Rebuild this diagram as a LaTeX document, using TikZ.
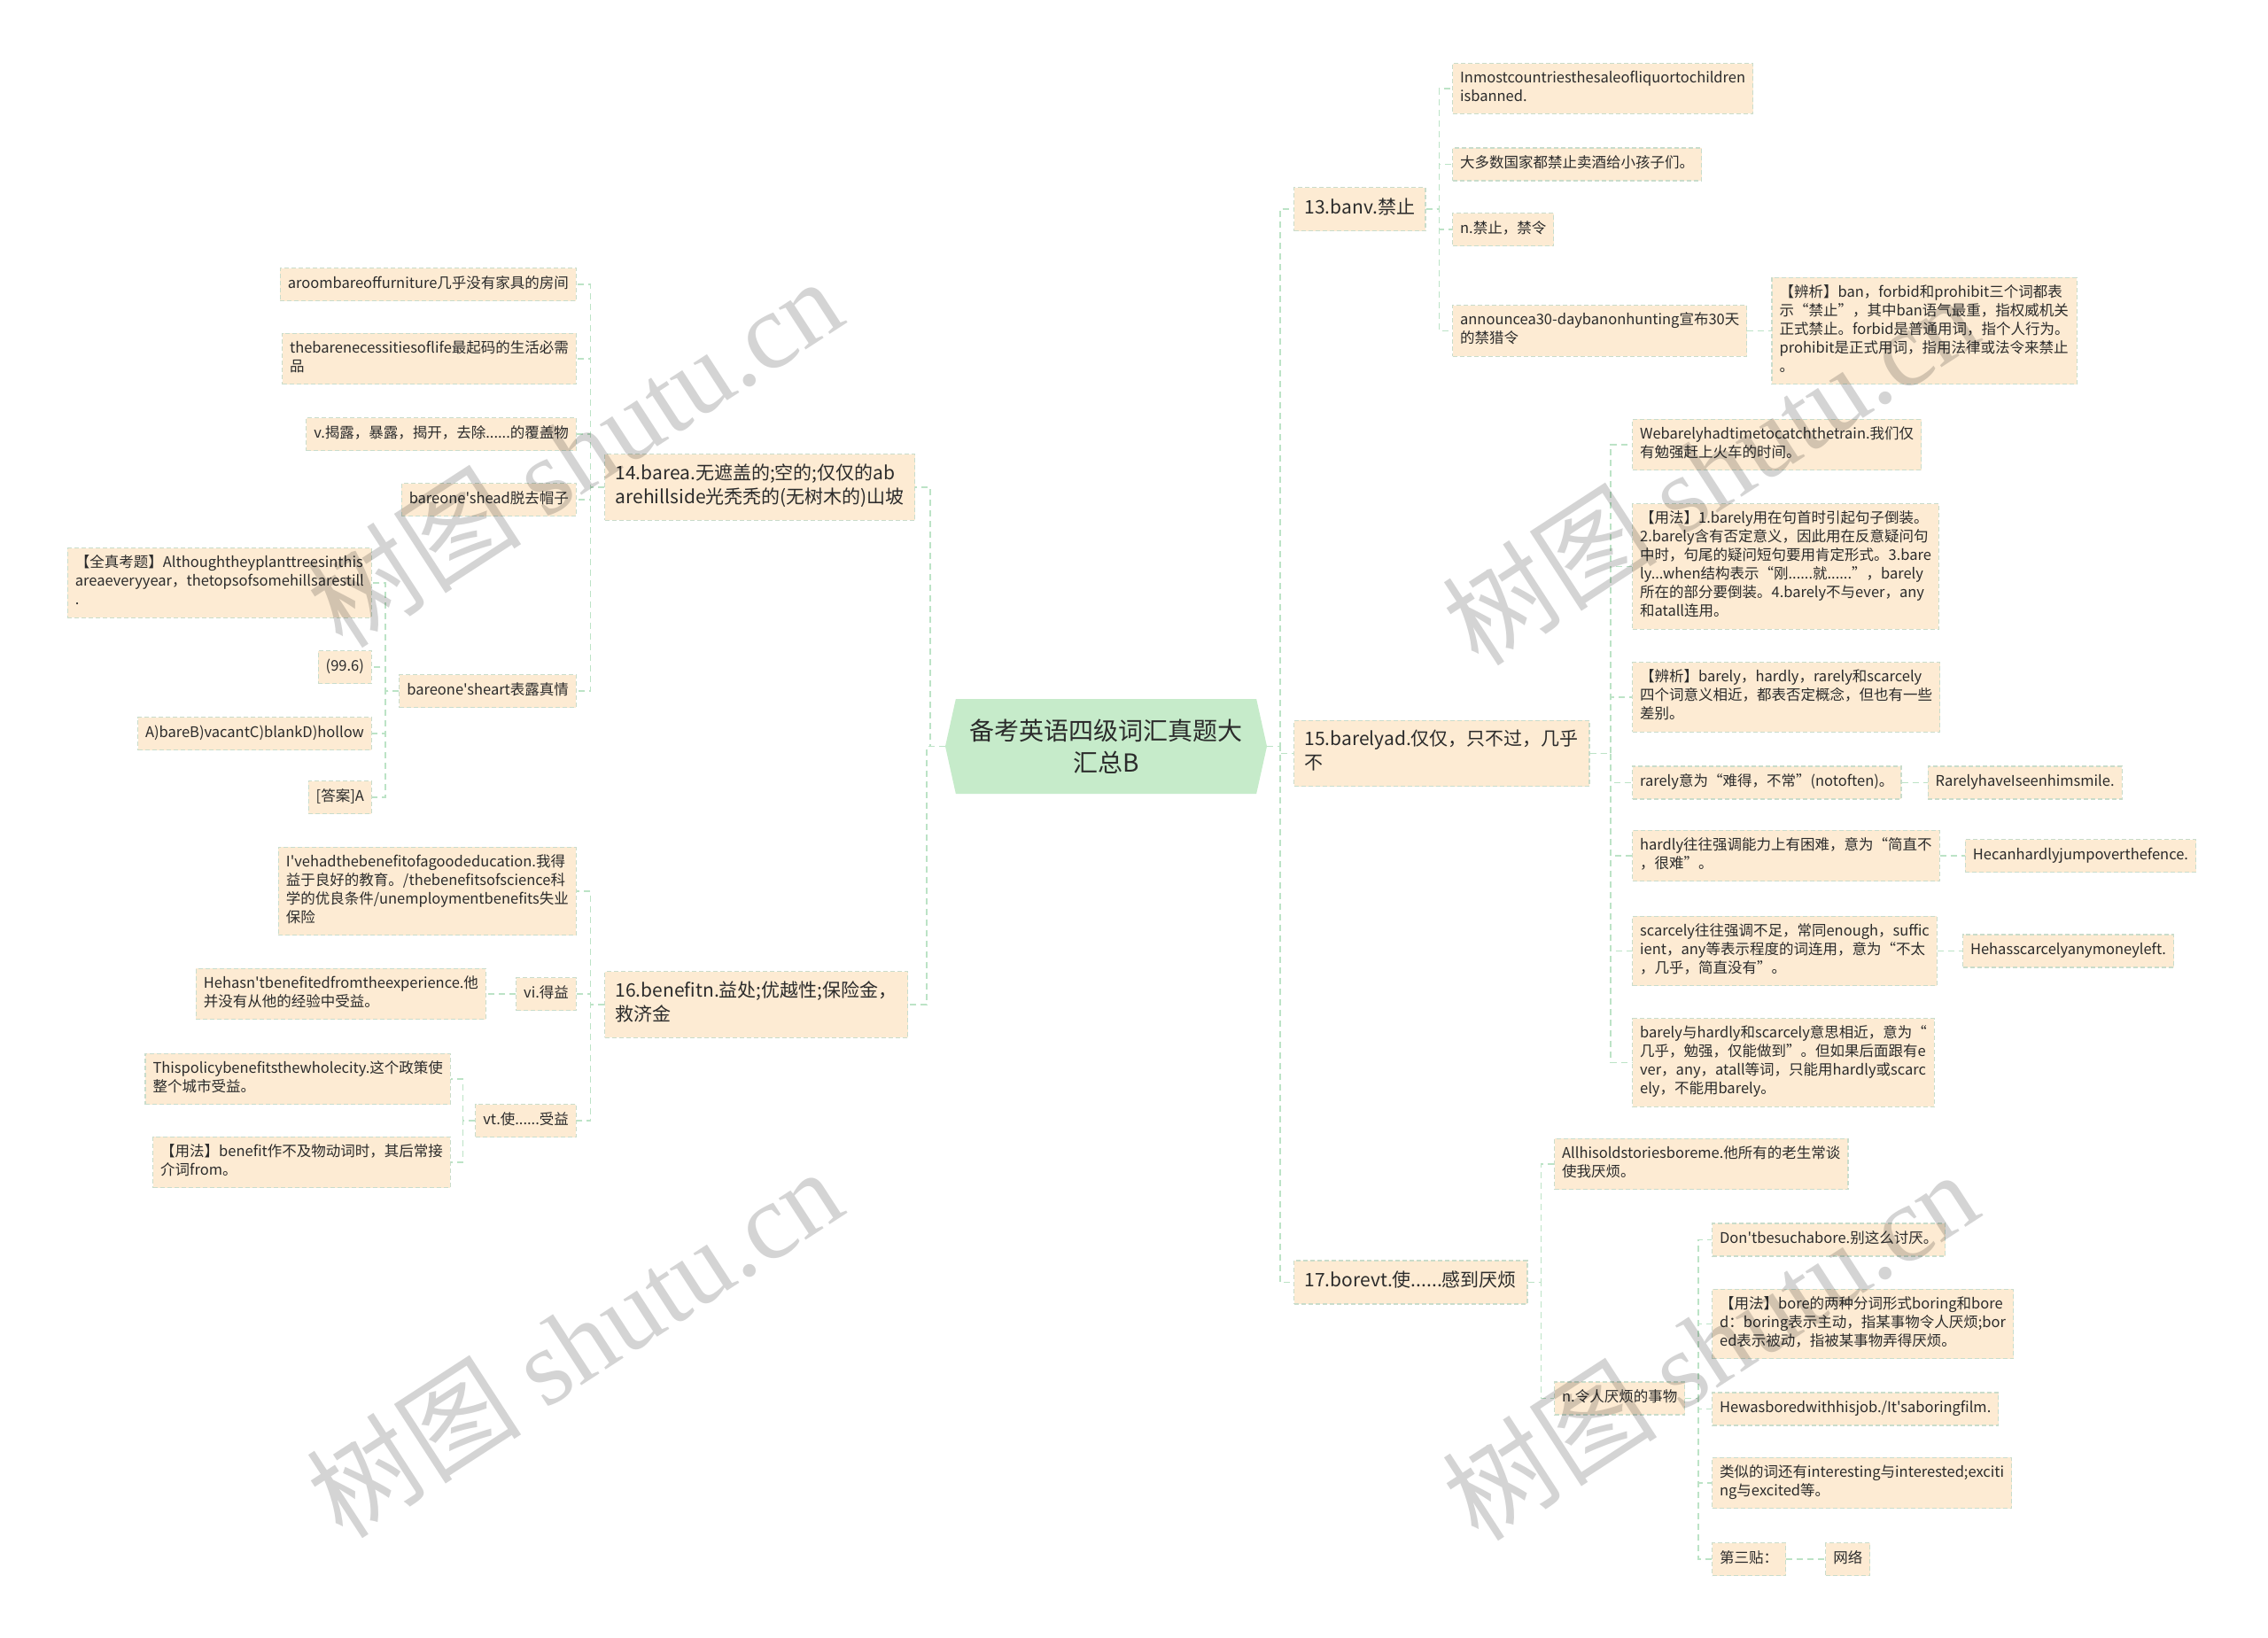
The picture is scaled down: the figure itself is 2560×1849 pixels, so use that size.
\documentclass[tikz,border=0pt]{standalone}
\usepackage{fontspec}
\setmainfont{Noto Sans CJK SC}[Ligatures=TeXOff]
\newfontfamily\wmlatin{Liberation Serif}
\usetikzlibrary{positioning,calc,shapes.symbols}
\definecolor{boxfill}{HTML}{FDEBD3}
\definecolor{boxedge}{HTML}{C9DCCB}
\definecolor{linkgreen}{HTML}{BCE3C6}
\definecolor{rootfill}{HTML}{C6EBCA}
\definecolor{inkgrey}{HTML}{2B2B2B}

\begin{document}
\begin{tikzpicture}[
  x=1pt, y=-1pt,
  leaf/.style={draw=boxedge, line width=1.2pt, dash pattern=on 5pt off 3pt,
    fill=boxfill, text=inkgrey, inner xsep=8.5pt, inner ysep=8pt, align=left,
    font=\fontsize{16.5}{21}\selectfont,
    execute at begin node=\strut, execute at end node=\strut},
  topic/.style={leaf, inner xsep=12pt, inner ysep=11pt,
    font=\fontsize{21}{27}\selectfont},
  root/.style={signal, signal to=east and west, signal pointer angle=155,
    fill=rootfill, text=inkgrey, align=center, minimum width=363pt,
    minimum height=107pt, font=\fontsize{28}{36}\selectfont},
  link/.style={draw=linkgreen, line width=1.6pt, dash pattern=on 7pt off 5pt},
  elbow/.style={to path={-| ($(\tikztostart)!.5!(\tikztotarget)$) |- (\tikztotarget)}},
  wmark/.style={text=black, text opacity=.17, rotate=33,
    font=\fontsize{122}{130}\selectfont}
]
  \path[use as bounding box, fill=white] (0,0) rectangle (2560,1849);

  \node[root] (root) at (1248.5,842.5) {备考英语四级词汇真题大\\汇总B};

  % left side
  \node[topic,anchor=west] (b14) at (682,550) {14.barea.无遮盖的;空的;仅仅的ab\\arehillside光秃秃的(无树木的)山坡};
  \node[leaf,anchor=east] (b14a) at (651,321) {aroombareoffurniture几乎没有家具的房间};
  \node[leaf,anchor=east] (b14b) at (651,405) {thebarenecessitiesoflife最起码的生活必需\\品};
  \node[leaf,anchor=east] (b14c) at (651,490) {v.揭露，暴露，揭开，去除......的覆盖物};
  \node[leaf,anchor=east] (b14d) at (651,564) {bareone'shead脱去帽子};
  \node[leaf,anchor=east] (b14e) at (651,780) {bareone'sheart表露真情};
  \node[leaf,anchor=east] (b14e1) at (420,658) {【全真考题】Althoughtheyplanttreesinthis\\areaeveryyear，thetopsofsomehillsarestill\\.};
  \node[leaf,anchor=east] (b14e2) at (420,753) {(99.6)};
  \node[leaf,anchor=east] (b14e3) at (420,828) {A)bareB)vacantC)blankD)hollow};
  \node[leaf,anchor=east] (b14e4) at (420,900) {[答案]A};

  \node[topic,anchor=west] (b16) at (682,1134) {16.benefitn.益处;优越性;保险金，\\救济金};
  \node[leaf,anchor=east] (b16a) at (651,1006) {I'vehadthebenefitofagoodeducation.我得\\益于良好的教育。/thebenefitsofscience科\\学的优良条件/unemploymentbenefits失业\\保险};
  \node[leaf,anchor=east] (b16b) at (651,1122) {vi.得益};
  \node[leaf,left=33pt of b16b] (b16b1) {Hehasn'tbenefitedfromtheexperience.他\\并没有从他的经验中受益。};
  \node[leaf,anchor=east] (b16c) at (651,1265) {vt.使......受益};
  \node[leaf,anchor=east] (b16c1) at (509,1218) {Thispolicybenefitsthewholecity.这个政策使\\整个城市受益。};
  \node[leaf,anchor=east] (b16c2) at (509,1312) {【用法】benefit作不及物动词时，其后常接\\介词from。};

  % right side
  \node[topic,anchor=west] (b13) at (1460,236) {13.banv.禁止};
  \node[leaf,anchor=west] (b13a) at (1639,100) {Inmostcountriesthesaleofliquortochildren\\isbanned.};
  \node[leaf,anchor=west] (b13b) at (1639,185.5) {大多数国家都禁止卖酒给小孩子们。};
  \node[leaf,anchor=west] (b13c) at (1639,259) {n.禁止，禁令};
  \node[leaf,anchor=west] (b13d) at (1639,373.5) {announcea30-daybanonhunting宣布30天\\的禁猎令};
  \node[leaf,right=27pt of b13d] (b13d1) {【辨析】ban，forbid和prohibit三个词都表\\示“禁止”，其中ban语气最重，指权威机关\\正式禁止。forbid是普通用词，指个人行为。\\prohibit是正式用词，指用法律或法令来禁止\\。};

  \node[topic,anchor=west] (b15) at (1460,850.5) {15.barelyad.仅仅，只不过，几乎\\不};
  \node[leaf,anchor=west] (b15a) at (1842,502) {Webarelyhadtimetocatchthetrain.我们仅\\有勉强赶上火车的时间。};
  \node[leaf,anchor=west] (b15b) at (1842,639.5) {【用法】1.barely用在句首时引起句子倒装。\\2.barely含有否定意义，因此用在反意疑问句\\中时，句尾的疑问短句要用肯定形式。3.bare\\ly...when结构表示“刚......就......”，barely\\所在的部分要倒装。4.barely不与ever，any\\和atall连用。};
  \node[leaf,anchor=west] (b15c) at (1842,787) {【辨析】barely，hardly，rarely和scarcely\\四个词意义相近，都表否定概念，但也有一些\\差别。};
  \node[leaf,anchor=west] (b15d) at (1842,883.5) {rarely意为“难得，不常”(notoften)。};
  \node[leaf,right=29pt of b15d] (b15d1) {RarelyhaveIseenhimsmile.};
  \node[leaf,anchor=west] (b15e) at (1842,966) {hardly往往强调能力上有困难，意为“简直不\\，很难”。};
  \node[leaf,right=28pt of b15e] (b15e1) {Hecanhardlyjumpoverthefence.};
  \node[leaf,anchor=west] (b15f) at (1842,1073.5) {scarcely往往强调不足，常同enough，suffic\\ient，any等表示程度的词连用，意为“不太\\，几乎，简直没有”。};
  \node[leaf,right=28pt of b15f] (b15f1) {Hehasscarcelyanymoneyleft.};
  \node[leaf,anchor=west] (b15g) at (1842,1199.5) {barely与hardly和scarcely意思相近，意为“\\几乎，勉强，仅能做到”。但如果后面跟有e\\ver，any，atall等词，只能用hardly或scarc\\ely，不能用barely。};

  \node[topic,anchor=west] (b17) at (1460,1447.5) {17.borevt.使......感到厌烦};
  \node[leaf,anchor=west] (b17a) at (1754,1314) {Allhisoldstoriesboreme.他所有的老生常谈\\使我厌烦。};
  \node[leaf,anchor=west] (b17b) at (1754,1578.5) {n.令人厌烦的事物};
  \node[leaf,anchor=west] (b17b1) at (1932,1399.5) {Don'tbesuchabore.别这么讨厌。};
  \node[leaf,anchor=west] (b17b2) at (1932,1494.5) {【用法】bore的两种分词形式boring和bore\\d：boring表示主动，指某事物令人厌烦;bor\\ed表示被动，指被某事物弄得厌烦。};
  \node[leaf,anchor=west] (b17b3) at (1932,1590.5) {Hewasboredwithhisjob./It'saboringfilm.};
  \node[leaf,anchor=west] (b17b4) at (1932,1674) {类似的词还有interesting与interested;exciti\\ng与excited等。};
  \node[leaf,anchor=west] (b17b5) at (1932,1760) {第三贴：};
  \node[leaf,right=44pt of b17b5] (b17b6) {网络};

  % connectors
  \foreach \c in {b14,b16} \draw[link] (root.west) to[elbow] (\c.east);
  \foreach \c in {b13,b15,b17} \draw[link] (root.east) to[elbow] (\c.west);
  \foreach \c in {b14a,b14b,b14c,b14d,b14e} \draw[link] (b14.west) to[elbow] (\c.east);
  \foreach \c in {b14e1,b14e2,b14e3,b14e4} \draw[link] (b14e.west) to[elbow] (\c.east);
  \foreach \c in {b16a,b16b,b16c} \draw[link] (b16.west) to[elbow] (\c.east);
  \draw[link] (b16b.west) -- (b16b1.east);
  \foreach \c in {b16c1,b16c2} \draw[link] (b16c.west) to[elbow] (\c.east);
  \foreach \c in {b13a,b13b,b13c,b13d} \draw[link] (b13.east) to[elbow] (\c.west);
  \draw[link] (b13d.east) to[elbow] (b13d1.west);
  \foreach \c in {b15a,b15b,b15c,b15d,b15e,b15f,b15g} \draw[link] (b15.east) to[elbow] (\c.west);
  \draw[link] (b15d.east) -- (b15d1.west);
  \draw[link] (b15e.east) -- (b15e1.west);
  \draw[link] (b15f.east) -- (b15f1.west);
  \foreach \c in {b17a,b17b} \draw[link] (b17.east) to[elbow] (\c.west);
  \foreach \c in {b17b1,b17b2,b17b3,b17b4,b17b5} \draw[link] (b17b.east) to[elbow] (\c.west);
  \draw[link] (b17b5.east) -- (b17b6.west);

  \node[wmark] (wm1) at (648,510) {树图 {\wmlatin shutu.cn}};
  \node[wmark] (wm2) at (648,1515) {树图 {\wmlatin shutu.cn}};
  \node[wmark] (wm3) at (1930,530) {树图 {\wmlatin shutu.cn}};
  \node[wmark] (wm4) at (1930,1518) {树图 {\wmlatin shutu.cn}};
\end{tikzpicture}
\end{document}
